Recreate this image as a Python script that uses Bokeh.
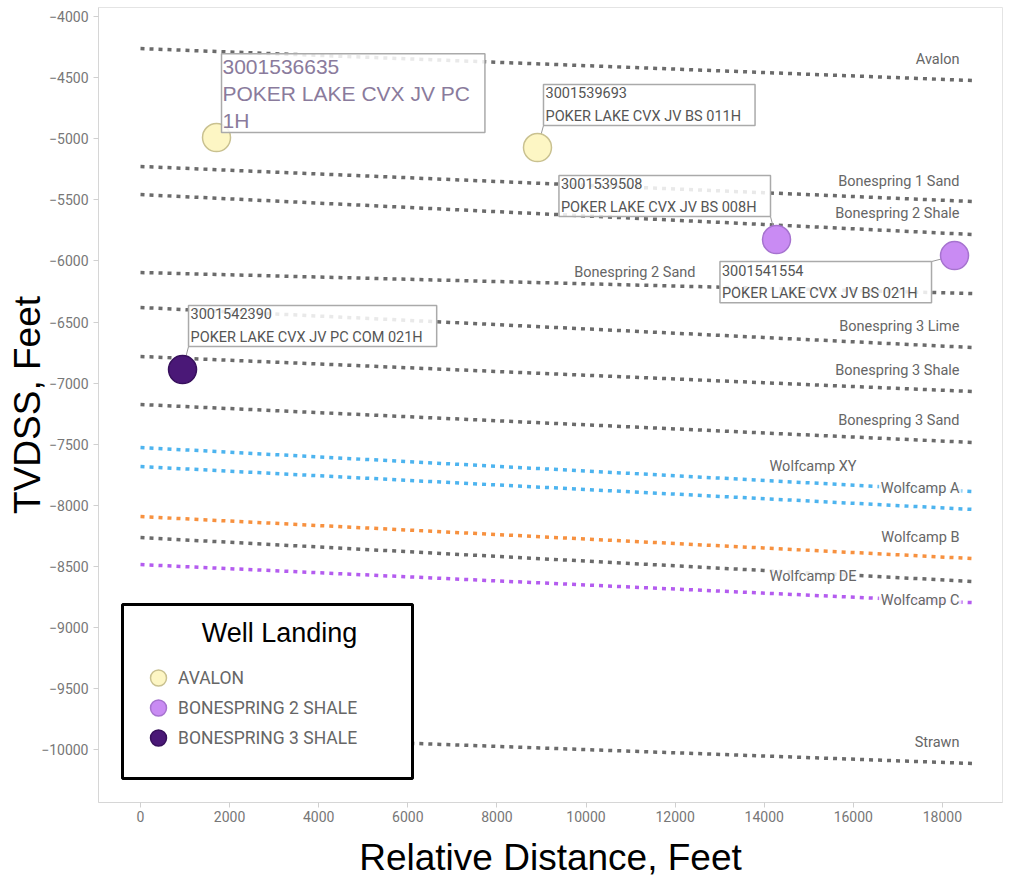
from bokeh.plotting import figure
from bokeh.models import (Range1d, FixedTicker, Label, Legend, LegendItem, ColumnDataSource,
                          BoxAnnotation)
from bokeh.embed import file_html
from bokeh.resources import INLINE

# ---------------- data ----------------
horizon_names = ["Avalon", "Bonespring 1 Sand", "Bonespring 2 Shale", "Bonespring 2 Sand",
                 "Bonespring 3 Lime", "Bonespring 3 Shale", "Bonespring 3 Sand",
                 "Wolfcamp XY", "Wolfcamp A", "Wolfcamp B", "Wolfcamp DE", "Wolfcamp C", "Strawn"]
horizon_distance = [0, 18700]
horizon_start_tvdss = [-4262, -5227, -5457, -6095, -6381, -6782, -7175,
                       -7527, -7683, -8092, -8264, -8485, -9868]
horizon_end_tvdss = [-4524, -5514, -5784, -6267, -6709, -7069, -7486,
                     -7887, -8034, -8436, -8624, -8797, -10113]

well_api = ["3001536635", "3001539693", "3001539508", "3001541554", "3001542390"]
well_name = ["POKER LAKE CVX JV PC 1H", "POKER LAKE CVX JV BS 011H", "POKER LAKE CVX JV BS 008H",
             "POKER LAKE CVX JV BS 021H", "POKER LAKE CVX JV PC COM 021H"]
well_distance = [1706, 8911, 14276, 18272, 943]
well_tvdss = [-4990, -5072, -5825, -5956, -6889]
well_landing = ["AVALON", "AVALON", "BONESPRING 2 SHALE", "BONESPRING 2 SHALE", "BONESPRING 3 SHALE"]

landing_order = ["AVALON", "BONESPRING 2 SHALE", "BONESPRING 3 SHALE"]

x_ticks = [0, 2000, 4000, 6000, 8000, 10000, 12000, 14000, 16000, 18000]
y_ticks = [-10000, -9500, -9000, -8500, -8000, -7500, -7000, -6500, -6000, -5500, -5000, -4500, -4000]

# ---------------- layout / style ----------------
FRAME_W, FRAME_H = 904, 795
MB_L, MB_R, MB_T, MB_B = 98, 4, 7, 78
X_RANGE = (-943, 19349)
Y_RANGE = (-10432, -3926)
UX = (X_RANGE[1] - X_RANGE[0]) / FRAME_W
UY = (Y_RANGE[1] - Y_RANGE[0]) / FRAME_H


def fx(px):  # pixel offset from the frame's left edge -> data x
    return X_RANGE[0] + px * UX


def fy(px):  # pixel offset from the frame's bottom edge -> data y
    return Y_RANGE[0] + px * UY


GRAY, BLUE, ORANGE, PURPLE = "#6b6b6b", "#4db4ef", "#f7913f", "#b45cef"
horizon_colors = [GRAY] * 7 + [BLUE, BLUE, ORANGE, GRAY, PURPLE, GRAY]
# label anchor (right edge, middle) for each horizon name
horizon_label_x = [18429, 18429, 18429, 12503, 18429, 18429, 18429,
                   16117, 18429, 18429, 16117, 18429, 18429]
horizon_label_y = [-4352, -5350, -5612, -6095, -6538, -6898, -7307,
                   -7684, -7864, -8265, -8584, -8780, -9942]

landing_fill = {"AVALON": "#fdf6c4", "BONESPRING 2 SHALE": "#c98bf3", "BONESPRING 3 SHALE": "#4a1877"}
landing_line = {"AVALON": "#c9c190", "BONESPRING 2 SHALE": "#a673cf", "BONESPRING 3 SHALE": "#37105c"}

# callout placement: anchor, pixel offset of that anchor from the well point
callouts = [
    dict(anchor="bottom_left", dx=5, dy=5, big=True, leader=False),
    dict(anchor="bottom_left", dx=6, dy=22, big=False, leader=True),
    dict(anchor="bottom_right", dx=-6, dy=23, big=False, leader=True),
    dict(anchor="top_right", dx=-23, dy=-6, big=False, leader=True),
    dict(anchor="bottom_left", dx=6, dy=23, big=False, leader=True),
]
# legend rows: screen location (from frame bottom-left) of each entry
legend_row_loc = [(40, 102), (40, 72), (40, 42)]

p = figure(frame_width=FRAME_W, frame_height=FRAME_H, output_backend="svg", toolbar_location=None,
           x_range=Range1d(*X_RANGE), y_range=Range1d(*Y_RANGE),
           min_border_left=MB_L, min_border_right=MB_R, min_border_top=MB_T, min_border_bottom=MB_B,
           background_fill_color="white", border_fill_color="white")
p.grid.visible = False
p.outline_line_color = "#e4e4e4"

for ax in (p.xaxis[0], p.yaxis[0]):
    ax.axis_line_color = "#d6d6d6"
    ax.major_tick_line_color = "#d0d0d0"
    ax.major_tick_out = 5
    ax.major_tick_in = 0
    ax.minor_tick_line_color = None
    ax.major_label_text_font = "Roboto"
    ax.major_label_text_font_size = "14px"
    ax.major_label_text_color = "#777777"
    ax.axis_label_text_font = "Liberation Sans"
    ax.axis_label_text_font_size = "37px"
    ax.axis_label_text_font_style = "normal"
    ax.axis_label_text_color = "black"

p.xaxis.ticker = FixedTicker(ticks=x_ticks)
p.yaxis.ticker = FixedTicker(ticks=y_ticks)
p.xaxis.axis_label = "Relative Distance, Feet"
p.yaxis.axis_label = "TVDSS, Feet"
p.xaxis.major_label_standoff = 3
p.xaxis.axis_label_standoff = 12
p.yaxis.major_label_standoff = 5
p.yaxis.axis_label_standoff = -10

# horizons
for name, y0, y1, c in zip(horizon_names, horizon_start_tvdss, horizon_end_tvdss, horizon_colors):
    p.line(horizon_distance, [y0, y1], line_color=c, line_width=3.5, line_dash="4 5", line_cap="butt")

for name, lx, ly in zip(horizon_names, horizon_label_x, horizon_label_y):
    p.add_layout(Label(x=lx, y=ly, text=name, text_font="Roboto", text_font_size="14.5px",
                       text_color="#666666", anchor="center_right", text_align="right",
                       text_baseline="middle", background_fill_color="white",
                       background_fill_alpha=0.85, padding=dict(left=2, right=2, top=0, bottom=0)))

# leader lines
lx0, ly0, lx1, ly1 = [], [], [], []
for wx, wy, c in zip(well_distance, well_tvdss, callouts):
    if c["leader"]:
        lx0.append(wx); ly0.append(wy)
        lx1.append(wx + c["dx"] * UX); ly1.append(wy + c["dy"] * UY)
p.segment(lx0, ly0, lx1, ly1, line_color="#999999", line_width=1)

# well points
legend_items = []
for landing in landing_order:
    idx = [i for i, l in enumerate(well_landing) if l == landing]
    src = ColumnDataSource(dict(x=[well_distance[i] for i in idx], y=[well_tvdss[i] for i in idx]))
    r = p.scatter("x", "y", source=src, size=28, fill_color=landing_fill[landing],
                  line_color=landing_line[landing], line_width=1.5)
    legend_items.append(LegendItem(label=landing, renderers=[r]))

# callouts
for api, name, wx, wy, c in zip(well_api, well_name, well_distance, well_tvdss, callouts):
    if c["big"]:
        head, tail = name.rsplit(" ", 1)
        txt = api + "\n" + head + "\n" + tail
        kw = dict(text_font="Liberation Sans", text_font_size="21px", text_color="#8a7b9c",
                  text_line_height=1.17, padding=dict(left=1, right=15, top=1, bottom=1))
    else:
        txt = api + "\n" + name
        kw = dict(text_font="Roboto", text_font_size="14.5px", text_color="#555555",
                  text_line_height=1.3, padding=dict(left=2, right=14, top=1, bottom=1))
    p.add_layout(Label(x=wx, y=wy, x_offset=c["dx"], y_offset=c["dy"], text=txt, anchor=c["anchor"],
                       border_line_color="#aaaaaa", border_line_width=1.5,
                       background_fill_color="white", background_fill_alpha=0.85, **kw))

# legend frame (box), its title, and the legend entries
p.add_layout(BoxAnnotation(left=fx(24), right=fx(314), bottom=fy(24), top=fy(198),
                           fill_color="white", fill_alpha=1, line_color="black", line_width=3,
                           line_alpha=1))
p.add_layout(Label(x=fx(181), y=fy(170), text="Well Landing",
                   text_font="Liberation Sans", text_font_size="27px", text_color="black",
                   text_align="center", text_baseline="middle"))
for item, loc in zip(legend_items, legend_row_loc):
    p.add_layout(Legend(items=[item], location=loc,
                        padding=0, spacing=0, glyph_width=40, glyph_height=45,
                        label_width=200, label_height=30, label_standoff=0,
                        label_text_font="Roboto", label_text_font_size="17.5px",
                        label_text_color="#666666",
                        border_line_color=None, background_fill_alpha=0, margin=0))

open("out.html", "w").write(file_html(p, INLINE))
